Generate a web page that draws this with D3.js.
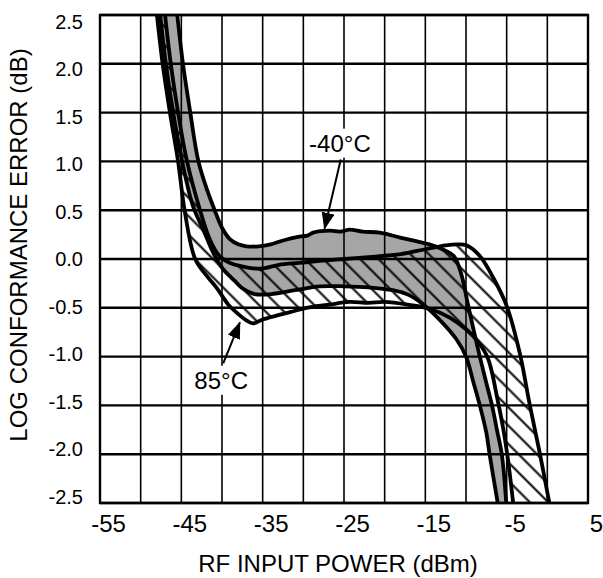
<!DOCTYPE html>
<html><head><meta charset="utf-8">
<script src="https://cdn.jsdelivr.net/npm/d3@7/dist/d3.min.js"></script>
<style>body{margin:0;background:#fff}svg{display:block}</style>
</head><body>
<svg id="chart" width="603" height="578"></svg>
<script>
// ---- data ----
const xTicks = [-55, -45, -35, -25, -15, -5, 5];
const xGridValues = [-55, -50, -45, -40, -35, -30, -25, -20, -15, -10, -5, 0, 5];
const yTicks = [-2.5, -2.0, -1.5, -1.0, -0.5, 0.0, 0.5, 1.0, 1.5, 2.0, 2.5];

// -40°C distribution: upper and lower bounds (gray band)
const coldUpper = [[-45.5,2.5],[-44.8,2.0],[-43.9,1.5],[-42.9,1.0],[-41.8,0.7],[-40.9,0.5],[-40.0,0.32],[-39.0,0.2],[-38.0,0.15],[-37.0,0.13],[-35.5,0.13],[-34.0,0.15],[-32.5,0.19],[-30.5,0.23],[-29.5,0.24],[-28.8,0.27],[-26.7,0.29],[-25.5,0.28],[-24.3,0.30],[-22.7,0.28],[-20.6,0.27],[-18.1,0.22],[-16.0,0.18],[-14.5,0.15],[-12.9,0.10],[-11.5,0.03],[-10.6,-0.15],[-9.8,-0.45],[-9.0,-0.75],[-8.3,-1.0],[-7.5,-1.27],[-6.8,-1.5],[-6.2,-1.75],[-5.6,-2.0],[-5.05,-2.5]];
const coldLower = [[-47.6,2.5],[-46.9,2.0],[-46.0,1.5],[-44.9,1.0],[-43.6,0.55],[-42.3,0.3],[-41.0,0.05],[-39.9,-0.1],[-38.5,-0.22],[-37.5,-0.3],[-36.0,-0.36],[-34.0,-0.36],[-31.0,-0.32],[-28.0,-0.28],[-25.0,-0.28],[-22.0,-0.29],[-19.0,-0.32],[-17.0,-0.37],[-15.5,-0.45],[-13.5,-0.6],[-11.2,-0.82],[-10.0,-1.0],[-9.1,-1.26],[-8.3,-1.5],[-7.5,-1.78],[-7.1,-2.0],[-6.1,-2.5]];
// +85°C distribution: upper and lower bounds (hatched band)
const hotUpper = [[-47.0,2.5],[-46.3,2.0],[-45.4,1.5],[-44.3,1.0],[-42.7,0.5],[-41.5,0.2],[-40.3,0.03],[-39.0,-0.04],[-37.8,-0.07],[-35.3,-0.1],[-33.0,-0.06],[-30.5,-0.04],[-28.0,-0.02],[-25.0,0.0],[-22.0,0.02],[-18.0,0.05],[-15.0,0.1],[-12.5,0.14],[-11.0,0.15],[-9.95,0.14],[-8.3,0.03],[-6.6,-0.2],[-5.0,-0.48],[-3.4,-0.96],[-2.17,-1.49],[-0.95,-1.98],[0.25,-2.5]];
const hotLower = [[-48.0,2.5],[-47.3,2.0],[-46.4,1.5],[-45.4,1.0],[-44.6,0.5],[-43.3,0.0],[-41.8,-0.18],[-40.7,-0.29],[-39.2,-0.47],[-38.2,-0.55],[-37.0,-0.63],[-36.2,-0.66],[-35.0,-0.62],[-33.3,-0.58],[-31.0,-0.53],[-29.6,-0.5],[-27.0,-0.47],[-24.3,-0.44],[-22.0,-0.45],[-20.0,-0.44],[-17.0,-0.47],[-14.5,-0.51],[-12.0,-0.6],[-10.0,-0.72],[-8.5,-0.85],[-7.3,-1.02],[-6.1,-1.45],[-5.4,-1.75],[-4.85,-2.05],[-4.2,-2.5]];

const labels = [
  {text: "-40°C", x: -25.5, y: 1.1, from: [-25.4, 1.02], to: [-27.4, 0.31]},
  {text: "85°C",  x: -40.1, y: -1.33, from: [-39.85, -1.07], to: [-37.8, -0.65]}
];

// ---- layout ----
const svg = d3.select("#chart");
const L = 100, R = 588, T = 15, B = 503;
const x = d3.scaleLinear().domain([-55, 5]).range([L, R]);
const y = d3.scaleLinear().domain([-2.5, 2.5]).range([B, T]);
const yLab = d3.scaleLinear().domain([-2.5, 2.5]).range([497, 22]);
const font = "'Liberation Sans', Arial, sans-serif";

const defs = svg.append("defs");
defs.append("clipPath").attr("id", "plotClip").append("rect")
  .attr("x", L).attr("y", T).attr("width", R - L).attr("height", B - T);
const pat = defs.append("pattern").attr("id", "hatch")
  .attr("patternUnits", "userSpaceOnUse").attr("width", 13).attr("height", 13)
  .attr("patternTransform", "rotate(45)");
pat.append("line").attr("x1", 0).attr("x2", 13).attr("y1", 6.5).attr("y2", 6.5)
  .attr("stroke", "#000").attr("stroke-width", 2);
defs.append("marker").attr("id", "arrow").attr("markerUnits", "userSpaceOnUse")
  .attr("markerWidth", 18).attr("markerHeight", 14).attr("refX", 16).attr("refY", 6.5)
  .attr("orient", "auto")
  .append("path").attr("d", "M0,0 L17,6.5 L0,13 Z").attr("fill", "#000");

const line = d3.line().x(d => x(d[0])).y(d => y(d[1])).curve(d3.curveCatmullRom.alpha(0.5));
function band(up, lo) {
  const a = line(up);
  const b = line(lo.slice().reverse());
  return a + "L" + b.slice(1) + "Z";
}

const plot = svg.append("g").attr("clip-path", "url(#plotClip)");
plot.append("path").attr("d", band(coldUpper, coldLower)).attr("fill", "#a6a6a6");
plot.append("path").attr("d", band(hotUpper, hotLower)).attr("fill", "url(#hatch)");

// grid
const grid = svg.append("g");
grid.selectAll("line.v").data(xGridValues).join("line")
  .attr("x1", d => x(d)).attr("x2", d => x(d)).attr("y1", T).attr("y2", B)
  .attr("stroke", "#000").attr("stroke-width", 1.6);
grid.selectAll("line.h").data(yTicks).join("line")
  .attr("x1", L).attr("x2", R).attr("y1", d => y(d)).attr("y2", d => y(d))
  .attr("stroke", "#000").attr("stroke-width", 2.4);

// curves
[coldUpper, coldLower, hotUpper, hotLower].forEach(c => {
  plot.append("path").attr("d", line(c)).attr("fill", "none")
    .attr("stroke", "#000").attr("stroke-width", 3.8).attr("stroke-linejoin", "round");
});

// border
svg.append("rect").attr("x", L).attr("y", T).attr("width", R - L).attr("height", B - T)
  .attr("fill", "none").attr("stroke", "#000").attr("stroke-width", 2.4);

// annotations
labels.forEach(l => {
  const g = svg.append("g");
  const t = g.append("text").attr("x", x(l.x)).attr("y", y(l.y))
    .attr("text-anchor", "middle").attr("font-family", font).attr("font-size", 24)
    .text(l.text);
  const bb = t.node().getBBox();
  g.insert("rect", "text").attr("x", bb.x - 3).attr("y", bb.y - 1)
    .attr("width", bb.width + 6).attr("height", bb.height + 2).attr("fill", "#fff");
  g.append("line").attr("x1", x(l.from[0])).attr("y1", y(l.from[1]))
    .attr("x2", x(l.to[0])).attr("y2", y(l.to[1]))
    .attr("stroke", "#000").attr("stroke-width", 2).attr("marker-end", "url(#arrow)");
});

// axes labels
const xAxis = svg.append("g").attr("transform", `translate(8,${B})`)
  .call(d3.axisBottom(x).tickValues(xTicks).tickSize(0).tickPadding(12).tickFormat(d => String(d)));
xAxis.select(".domain").remove();
xAxis.selectAll("text").attr("font-family", font).attr("font-size", 24).attr("fill", "#000");

const yAxis = svg.append("g").attr("transform", "translate(86,0)")
  .call(d3.axisLeft(yLab).tickValues(yTicks).tickSize(0).tickPadding(3).tickFormat(d => d.toFixed(1)));
yAxis.select(".domain").remove();
yAxis.selectAll("text").attr("font-family", font).attr("font-size", 20).attr("fill", "#000");

svg.append("text").attr("x", 338).attr("y", 572).attr("text-anchor", "middle")
  .attr("font-family", font).attr("font-size", 24).text("RF INPUT POWER (dBm)");
svg.append("text").attr("transform", "translate(27,245) rotate(-90)").attr("text-anchor", "middle")
  .attr("font-family", font).attr("font-size", 24).text("LOG CONFORMANCE ERROR (dB)");
</script>
</body></html>
